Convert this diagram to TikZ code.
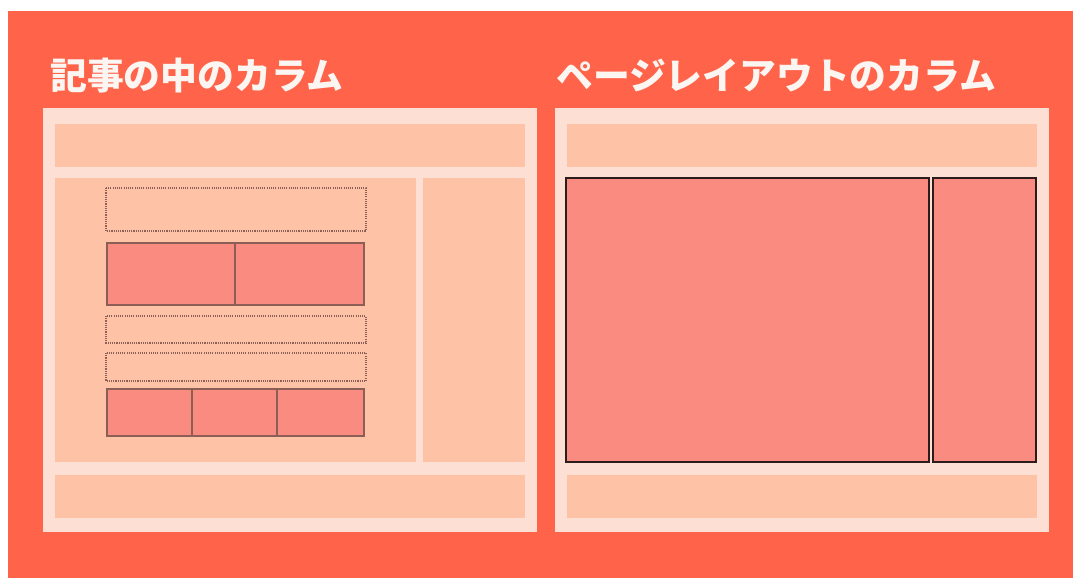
\documentclass[tikz,border=0pt]{standalone}
\usepackage{fontspec}
\newfontfamily\jpfont{Noto Sans CJK JP}
\definecolor{bgred}{HTML}{FF644B}
\definecolor{panel}{HTML}{FDDFD3}
\definecolor{peach}{HTML}{FEC3A6}
\definecolor{pinkbox}{HTML}{FA8B81}
\definecolor{edgebrown}{HTML}{8C5E55}
\definecolor{edgedark}{HTML}{2B1B1B}
\definecolor{titlewhite}{HTML}{FBF6F2}
\tikzset{
	panelbox/.style={fill=panel},
	band/.style={fill=peach},
	textbox/.style={draw=edgebrown, line width=1.1pt, dash pattern=on 1.1pt off 1.1pt},
	imgbox/.style={fill=pinkbox, draw=edgebrown, line width=1.4pt},
	colbox/.style={fill=pinkbox, draw=edgedark, line width=1.4pt},
	heading/.style={anchor=base west, inner sep=0pt, text=titlewhite, font=\jpfont\bfseries\fontsize{36.8}{36.8}\selectfont}
}
\begin{document}
\begin{tikzpicture}[x=1pt,y=-1pt]
				\useasboundingbox (0,0) rectangle (1073,578);
				\fill[bgred] (8,11) rectangle (1073,578);

				% two panels with header and footer bands
				\foreach \X in {43,555} {
					\fill[panelbox] (\X,108) rectangle (\X+494,532);
					\fill[band] (\X+12,124) rectangle (\X+482,167);
					\fill[band] (\X+12,475) rectangle (\X+482,518);
				}

				\node[heading] (lefttitle) at (50,89) {記事の中のカラム};
				\node[heading] (righttitle) at (556,89) {ページレイアウトのカラム};

				% columns inside the article
				\fill[band] (55,178) rectangle (416,462);
				\fill[band] (423,178) rectangle (525,462);
				\draw[textbox] (106,188) rectangle (366,231);
				\draw[imgbox] (107,243) rectangle (364,305);
				\draw[edgebrown, line width=1.4pt] (235,243) -- (235,305);
				\draw[textbox] (106,316) rectangle (366,343);
				\draw[textbox] (106,353) rectangle (366,381);
				\draw[imgbox] (107,389) rectangle (364,436);
				\foreach \D in {192,277}
					\draw[edgebrown, line width=1.4pt] (\D,389) -- (\D,436);

				% columns of the page layout
				\draw[colbox] (566,178) rectangle (929,462);
				\draw[colbox] (933,178) rectangle (1036,462);
\end{tikzpicture}
\end{document}
